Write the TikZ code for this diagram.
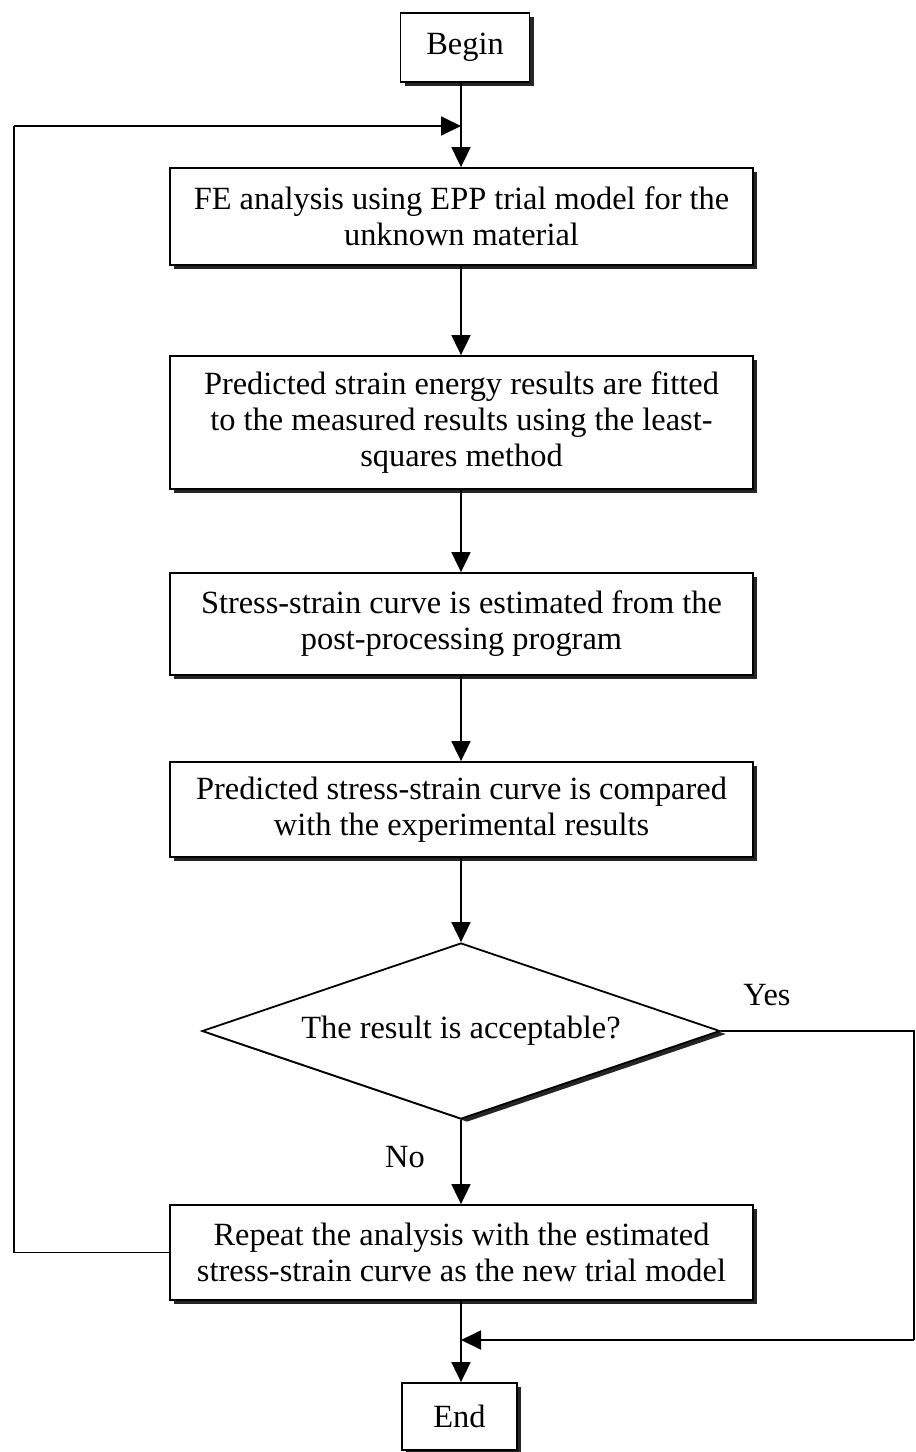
\documentclass[tikz,border=0pt]{standalone}
\usepackage{fontspec}
\setmainfont{Liberation Serif}
\usetikzlibrary{arrows.meta,shapes.geometric,shadows}
\begin{document}
\begin{tikzpicture}[x=0.5pt,y=-0.5pt,
  txt/.style={font=\fontsize{16.2pt}{18pt}\selectfont},
  boxshadow/.style={drop shadow={shadow xshift=2pt, shadow yshift=-2pt, fill=black!85, opacity=1}},
  procbox/.style={txt, draw, line width=0.9pt, fill=white, align=center, minimum width=291.5pt, inner sep=0pt, boxshadow},
  termbox/.style={txt, draw, line width=0.9pt, fill=white, align=center, inner sep=0pt, boxshadow},
  decbox/.style={txt, draw, diamond, aspect=2.943, line width=0.9pt, fill=white, inner sep=0pt, minimum width=259pt, minimum height=88pt,
    drop shadow={shadow xshift=3pt, shadow yshift=-1.5pt, fill=black!85, opacity=1}},
  flow/.style={draw, line width=0.9pt, -{Triangle[length=10pt,width=9.5pt]}},
  plain/.style={draw, line width=0.9pt},
  lbl/.style={txt, inner sep=0pt}]
\useasboundingbox (0,0) rectangle (916,1452);

\node[termbox, minimum width=64.5pt, minimum height=34.5pt] (begin) at (465,47.5) {Begin};
\node[procbox, minimum height=48.5pt] (b1) at (461.5,216.5) {FE analysis using EPP trial model for the\\unknown material};
\node[procbox, minimum height=66.5pt] (b2) at (461.5,422.5) {Predicted strain energy results are fitted\\to the measured results using the least-\\squares method};
\node[procbox, minimum height=51pt] (b3) at (461.5,624) {Stress-strain curve is estimated from the\\post-processing program};
\node[procbox, minimum height=47.5pt] (b4) at (461.5,809.5) {Predicted stress-strain curve is compared\\with the experimental results};
\node[decbox] (d) at (461,1031) {The result is acceptable?};
\node[procbox, minimum height=47.5pt] (b5) at (461.5,1252.5) {Repeat the analysis with the estimated\\stress-strain curve as the new trial model};
\node[termbox, minimum width=57.5pt, minimum height=33.5pt] (end) at (459.5,1416.5) {End};

\coordinate (j1) at (461,126);
\coordinate (l1) at (14,1252.5);
\coordinate (l2) at (14,126);
\coordinate (j2) at (461,1340);
\coordinate (r1) at (914,1031);
\coordinate (r2) at (914,1340);

\draw[flow] (begin.south -| j1) -- (b1.north -| j1);
\draw[flow] (l2) -- (j1);
\draw[plain] (b5.west) -- (l1) -- (l2);
\draw[flow] (b1.south -| j1) -- (b2.north -| j1);
\draw[flow] (b2.south -| j1) -- (b3.north -| j1);
\draw[flow] (b3.south -| j1) -- (b4.north -| j1);
\draw[flow] (b4.south -| d.north) -- (d.north);
\draw[flow] (d.south) -- (b5.north -| d.south);
\draw[flow] (b5.south -| j2) -- (end.north -| j2);
\draw[plain] (d.east) -- (r1) -- (r2);
\draw[flow] (r2) -- (j2);

\node[lbl] (yes) at (767,995) {Yes};
\node[lbl] (no) at (405,1157) {No};
\end{tikzpicture}
\end{document}
